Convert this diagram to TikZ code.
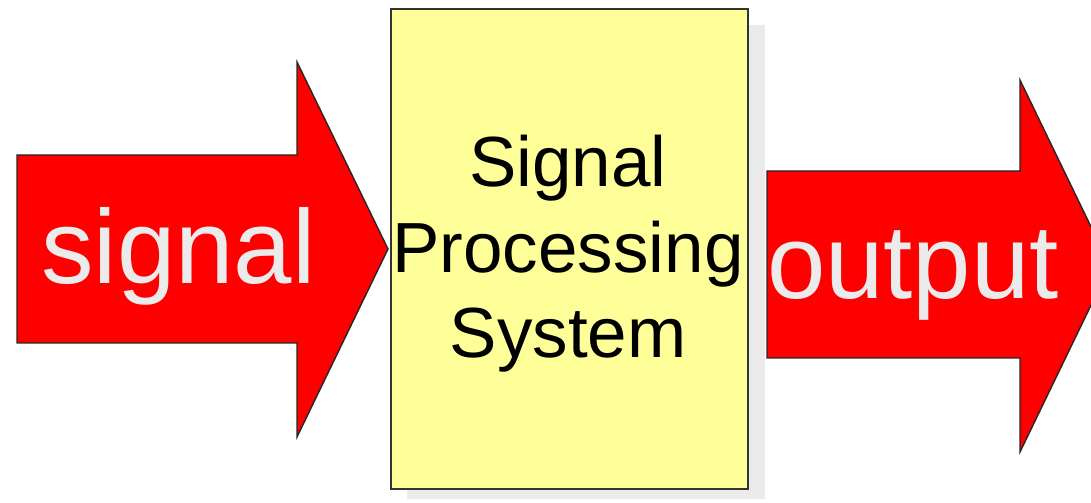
\documentclass[tikz,border=0pt]{standalone}
\usepackage{fontspec}
\newfontfamily\arialfont{Liberation Sans}
\definecolor{arrowred}{HTML}{FF0000}
\definecolor{lighttext}{HTML}{EBEBEB}
\definecolor{boxfill}{HTML}{FFFF99}
\definecolor{boxline}{HTML}{333333}
\definecolor{shadowgray}{HTML}{EBEBEB}
\tikzset{
  bigarrow/.style={fill=arrowred, draw=black!85, line width=1.4bp, line join=miter},
  arrowlabel/.style={text=lighttext, font=\arialfont\fontsize{105bp}{105bp}\selectfont, anchor=base, inner sep=0pt},
  procbox/.style={fill=boxfill, draw=boxline, line width=2bp},
  boxlabel/.style={text=black, font=\arialfont\fontsize{71bp}{85.5bp}\selectfont, align=center, anchor=base, inner sep=0pt},
}
\begin{document}
\begin{tikzpicture}[x=1bp, y=-1bp]
\useasboundingbox (0,0) rectangle (1091,503);
\clip (0,0) rectangle (1091,503);
% left arrow
\draw[bigarrow] (17,155) -- (297,155) -- (297,62) -- (388,249) -- (297,437) -- (297,343) -- (17,343) -- cycle;
\node[arrowlabel] (sig) at (178.5,284) {signal};
% shadow and box
\fill[shadowgray] (407,25) rectangle (765,499);
\draw[procbox] (391,9) rectangle (748,489);
\node[boxlabel] (l1) at (568,187) {Signal};
\node[boxlabel] (l2) at (568,273) {Processing};
\node[boxlabel] (l3) at (568,358) {System};
% right arrow
\draw[bigarrow] (767,171) -- (1020,171) -- (1020,80) -- (1110,266) -- (1020,452) -- (1020,358) -- (767,358) -- cycle;
\node[arrowlabel] (out) at (913,299) {output};
\end{tikzpicture}
\end{document}
